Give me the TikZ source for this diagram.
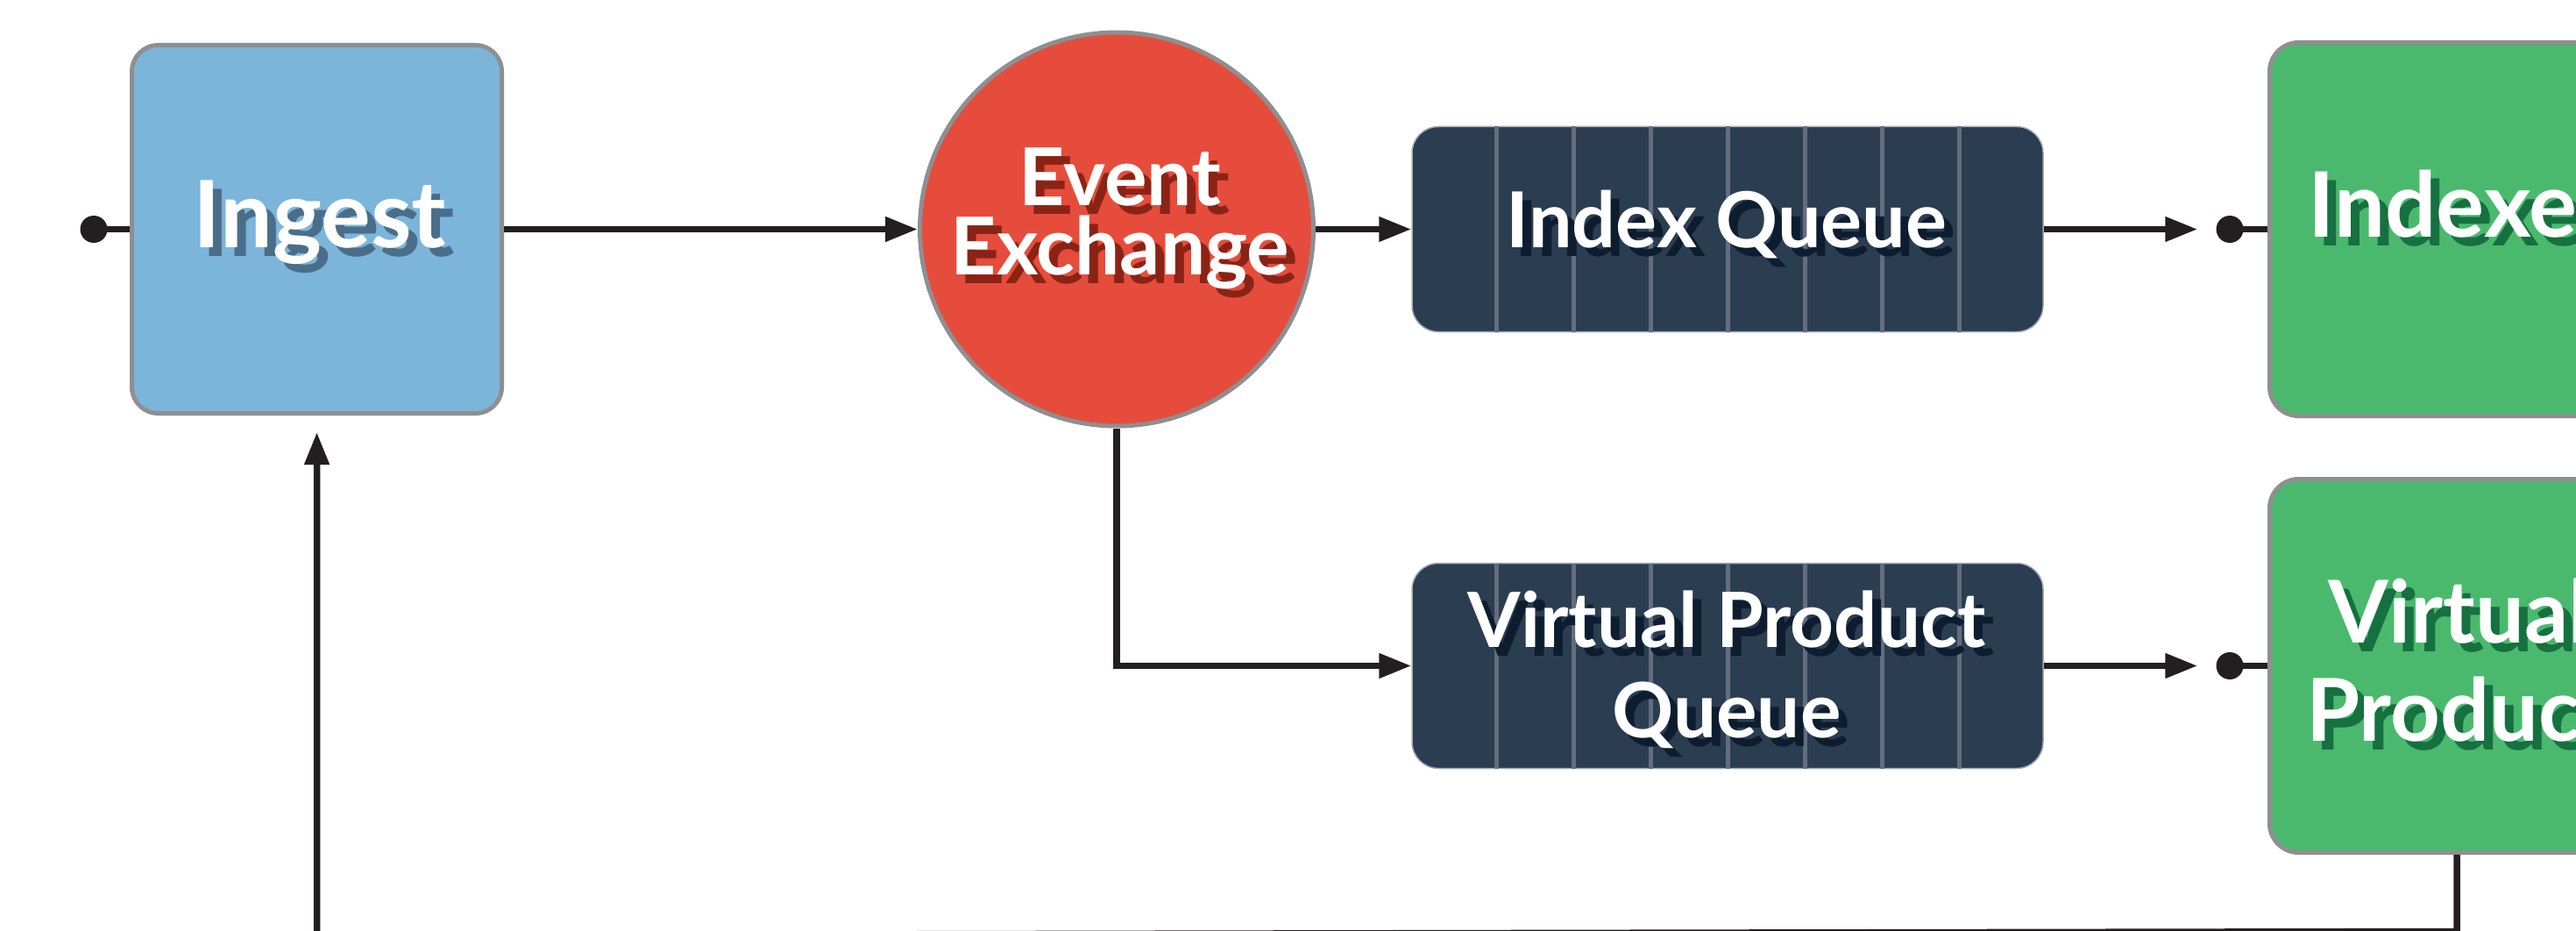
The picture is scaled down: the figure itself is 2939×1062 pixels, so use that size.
\documentclass[tikz,border=0pt]{standalone}
\usepackage{fontspec}
\newfontfamily\boxfont{Lato}
\usetikzlibrary{arrows.meta,calc}

\definecolor{arrowblack}{HTML}{231F20}
\definecolor{bordergray}{HTML}{8E8F91}
\definecolor{ingestfill}{HTML}{7CB5DA}
\definecolor{ingestshadow}{HTML}{4A6E8A}
\definecolor{exfill}{HTML}{E64C3B}
\definecolor{exshadow}{HTML}{8A2316}
\definecolor{queuefill}{HTML}{2B3D50}
\definecolor{queueline}{HTML}{656C80}
\definecolor{queueedge}{HTML}{A4AAB4}
\definecolor{queueshadow}{HTML}{0D1D2F}
\definecolor{workerfill}{HTML}{4AB96E}
\definecolor{workershadow}{HTML}{167040}

% white text with a solid drop shadow offset down and to the right
\newcommand{\shadowtext}[2]{\makebox[0pt][l]{\raisebox{-10pt}{\kern10pt\textcolor{#1}{#2}}}#2}

\begin{document}
\begin{tikzpicture}[x=1pt,y=-1pt,
  conn/.style={line width=7.5pt, draw=arrowblack},
  tip/.style={-{Triangle[length=37pt,width=27pt]}},
  panel/.style={draw=bordergray, line width=5pt, rounded corners=30pt, inner sep=0pt,
                minimum width=422pt, minimum height=420pt},
  worker/.style={panel, fill=workerfill, minimum width=427pt, minimum height=426pt, rounded corners=33pt},
  queuebox/.style={draw=queueedge, line width=1.5pt, fill=queuefill, rounded corners=30pt,
                inner sep=0pt, minimum width=720pt, minimum height=234pt},
  qline/.style={draw=queueline, line width=5pt},
  dot/.style={circle, fill=arrowblack, inner sep=0pt, minimum size=31pt},
  lbl/.style={text=white, inner sep=0pt, anchor=base}
]
\useasboundingbox (0,0) rectangle (2939,1062);

% shapes
\node[panel, fill=ingestfill] (ingest) at (361.5,261.5) {};
\node[circle, draw=bordergray, line width=5pt, fill=exfill, inner sep=0pt, minimum size=449pt] (ex) at (1274,261.5) {};
\node[queuebox] (iq) at (1971,261.5) {};
\node[queuebox] (vpq) at (1971,759.5) {};
\node[worker] (idx) at (2803,261.5) {};
\node[worker] (vp) at (2803,759.5) {};

% queue slots
\foreach \k in {-3,...,3} {
  \draw[qline] ($(iq.north)+(\k*88,0.75)$) -- ($(iq.south)+(\k*88,-0.75)$);
  \draw[qline] ($(vpq.north)+(\k*88,0.75)$) -- ($(vpq.south)+(\k*88,-0.75)$);
}

% connection points
\node[dot] (d0) at (107,261.5) {};
\node[dot] (d1) at (2544,261.5) {};
\node[dot] (d2) at (2544,759.5) {};
\coordinate (b1) at (2803,1062.5);
\coordinate (b2) at (361.5,1067);

% connectors
\draw[conn] (d0.center) -- (ingest.west);
\draw[conn,tip] (ingest.east) -- (ex.west);
\draw[conn,tip] (ex.east) -- (iq.west);
\draw[conn,tip,shorten >=21pt] (iq.east) -- (d1.west);
\draw[conn] (d1.center) -- (idx.west);
\draw[conn,tip] (ex.south) |- (vpq.west);
\draw[conn,tip,shorten >=21pt] (vpq.east) -- (d2.west);
\draw[conn] (d2.center) -- (vp.west);
\draw[conn,tip,shorten >=19pt] (vp.south) -- (b1) -- (b2) -- (b2 |- ingest.south);

% labels
\node[lbl, font=\boxfont\bfseries\fontsize{106}{106}\selectfont] (ingesttxt) at (365,282) {\shadowtext{ingestshadow}{Ingest}};
\node[lbl, font=\boxfont\bfseries\fontsize{91}{91}\selectfont] (extxt1) at (1278,234) {\shadowtext{exshadow}{Event}};
\node[lbl, font=\boxfont\bfseries\fontsize{91}{91}\selectfont] (extxt2) at (1278,313) {\shadowtext{exshadow}{Exchange}};
\node[lbl, font=\boxfont\bfseries\fontsize{88}{88}\selectfont] (iqtxt) at (1970,282) {\shadowtext{queueshadow}{Index Queue}};
\node[lbl, font=\boxfont\bfseries\fontsize{87}{87}\selectfont] (vpqtxt1) at (1970,738) {\shadowtext{queueshadow}{Virtual Product}};
\node[lbl, font=\boxfont\bfseries\fontsize{87}{87}\selectfont] (vpqtxt2) at (1970,841) {\shadowtext{queueshadow}{Queue}};
\node[lbl, font=\boxfont\bfseries\fontsize{103}{103}\selectfont] (idxtxt) at (2806,270) {\shadowtext{workershadow}{Indexer}};
\node[lbl, font=\boxfont\bfseries\fontsize{99}{99}\selectfont] (vptxt1) at (2806,733) {\shadowtext{workershadow}{Virtual}};
\node[lbl, font=\boxfont\bfseries\fontsize{99}{99}\selectfont] (vptxt2) at (2806,845) {\shadowtext{workershadow}{Product}};
\end{tikzpicture}
\end{document}
